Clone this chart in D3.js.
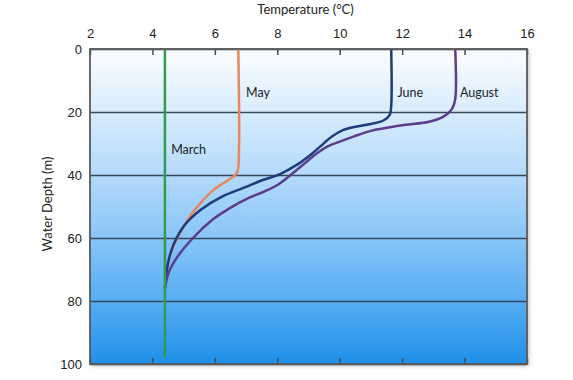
<!DOCTYPE html>
<html>
<head>
<meta charset="utf-8">
<script src="https://cdn.jsdelivr.net/npm/d3@7"></script>
<style>
  body { margin: 0; background: #fff; }
  svg { display: block; font-family: Lato, "Open Sans", sans-serif; }
  .lbl { fill: #1c1c28; font-size: 12.5px; }
</style>
</head>
<body>
<svg id="chart"></svg>
<script>
const width = 573, height = 380;
const margin = { top: 49, right: 46, bottom: 16, left: 90 };
const innerW = width - margin.left - margin.right;
const innerH = height - margin.top - margin.bottom;

// tick values
const tempTicks = [2, 4, 6, 8, 10, 12, 14, 16];
const depthTicks = [0, 20, 40, 60, 80, 100];

// profiles (temperature in °C, depth in m)
const marchTemp = [4.4, 4.4];
const marchDepth = [0, 98];

const mayTemp = [6.75, 6.75, 6.7, 6.49, 5.95, 5.53, 5.2, 4.94, 4.76, 4.62, 4.5, 4.43, 4.4];
const mayDepth = [0, 37.5, 39.5, 41.2, 44.8, 49, 53.2, 57.5, 60.8, 64, 68, 72, 76];

const juneTemp = [11.65, 11.65, 11.6, 11.4, 11.0, 10.55, 10.12, 9.75, 9.37, 9.05, 8.62, 8.09, 7.45, 7.0, 6.2, 5.55, 5.02, 4.68, 4.52, 4.44, 4.4];
const juneDepth = [0, 18, 21, 22.7, 23.8, 24.6, 25.7, 27.8, 31, 33.7, 36.8, 39.7, 41.9, 43.8, 47, 51, 56, 62, 67, 72, 76];

const augTemp = [13.7, 13.7, 13.6, 13.35, 12.9, 11.94, 11.0, 10.44, 10.0, 9.6, 9.27, 8.94, 8.62, 8.3, 7.95, 7.55, 7.1, 6.4, 5.95, 5.3, 4.8, 4.52, 4.4];
const augDepth = [0, 16, 19, 21.3, 23.0, 24.3, 26.0, 27.8, 29.4, 31, 33.1, 35.8, 38.4, 41, 43.5, 45.4, 47.2, 51, 54, 60, 66, 71, 76];

const series = [
    { name: "March", temp: marchTemp, depth: marchDepth, color: "#2f9e4c", lx: 4.6, ly: 32 },
    { name: "May", temp: mayTemp, depth: mayDepth, color: "#e8875f", lx: 7.0, ly: 14 },
    { name: "June", temp: juneTemp, depth: juneDepth, color: "#1e3b7a", lx: 11.85, ly: 14 },
    { name: "August", temp: augTemp, depth: augDepth, color: "#5c3c8c", lx: 13.85, ly: 14 }
];

const svg = d3.select("#chart").attr("width", width).attr("height", height);
const defs = svg.append("defs");

const grad = defs.append("linearGradient")
    .attr("id", "water").attr("x1", 0).attr("y1", 0).attr("x2", 0).attr("y2", 1);
[["0%", "#fbfdff"], ["20%", "#d8ecfd"], ["40%", "#b4dafa"], ["60%", "#88c5f8"],
 ["80%", "#56adf3"], ["100%", "#1f90e9"]].forEach(s => {
    grad.append("stop").attr("offset", s[0]).attr("stop-color", s[1]);
});

const shadow = defs.append("filter").attr("id", "shadow")
    .attr("x", "-5%").attr("y", "-5%").attr("width", "115%").attr("height", "115%");
shadow.append("feDropShadow").attr("dx", 2).attr("dy", 2)
    .attr("stdDeviation", 2).attr("flood-color", "#000").attr("flood-opacity", 0.25);

const x = d3.scaleLinear().domain([2, 16]).range([0, innerW]);
const y = d3.scaleLinear().domain([0, 100]).range([0, innerH]);

const g = svg.append("g").attr("transform", `translate(${margin.left},${margin.top})`);

g.append("rect")
    .attr("width", innerW).attr("height", innerH)
    .attr("fill", "url(#water)")
    .attr("filter", "url(#shadow)");

// left axis with gridlines
const yAxis = g.append("g")
    .call(d3.axisLeft(y).tickValues(depthTicks).tickSize(-innerW).tickPadding(8));
yAxis.select(".domain").remove();
yAxis.selectAll("line").attr("stroke", "#34475a").attr("stroke-width", 1.5);
yAxis.selectAll("text").attr("fill", "#222").style("font-size", "13px");

// top axis, ticks pointing inward
const xAxis = g.append("g")
    .call(d3.axisTop(x).tickValues(tempTicks).tickSize(-6).tickPadding(11));
xAxis.select(".domain").remove();
xAxis.selectAll("line").attr("stroke", "#4a4a4a").attr("stroke-width", 1.5);
xAxis.selectAll("text").attr("fill", "#222").style("font-size", "13px");

// bottom inward ticks
const xAxisB = g.append("g").attr("transform", `translate(0,${innerH})`)
    .call(d3.axisBottom(x).tickValues(tempTicks).tickSize(-6).tickFormat(""));
xAxisB.select(".domain").remove();
xAxisB.selectAll("line").attr("stroke", "#4a4a4a").attr("stroke-width", 1.5);

const line = d3.line()
    .x(d => x(d[0]))
    .y(d => y(d[1]))
    .curve(d3.curveCatmullRom.alpha(0.5));

[series[1], series[2], series[3], series[0]].forEach(s => {
    g.append("path")
        .datum(s.temp.map((t, i) => [t, s.depth[i]]))
        .attr("fill", "none")
        .attr("stroke", s.color)
        .attr("stroke-width", 2.5)
        .attr("d", line);
});

// frame
g.append("rect")
    .attr("width", innerW).attr("height", innerH)
    .attr("fill", "none").attr("stroke", "#5a5a5a").attr("stroke-width", 1.8);

// series labels
g.selectAll(".lbl").data(series).join("text")
    .attr("class", "lbl")
    .attr("x", d => x(d.lx))
    .attr("y", d => y(d.ly))
    .attr("dy", "0.35em")
    .text(d => d.name);

svg.append("text")
    .attr("x", margin.left + innerW / 2 - 3)
    .attr("y", 14)
    .attr("text-anchor", "middle")
    .attr("fill", "#222")
    .style("font-size", "13px")
    .text("Temperature (°C)");

svg.append("text")
    .attr("transform", `translate(52,204) rotate(-90)`)
    .attr("text-anchor", "middle")
    .attr("fill", "#222")
    .style("font-size", "13px")
    .text("Water Depth (m)");
</script>
</body>
</html>
